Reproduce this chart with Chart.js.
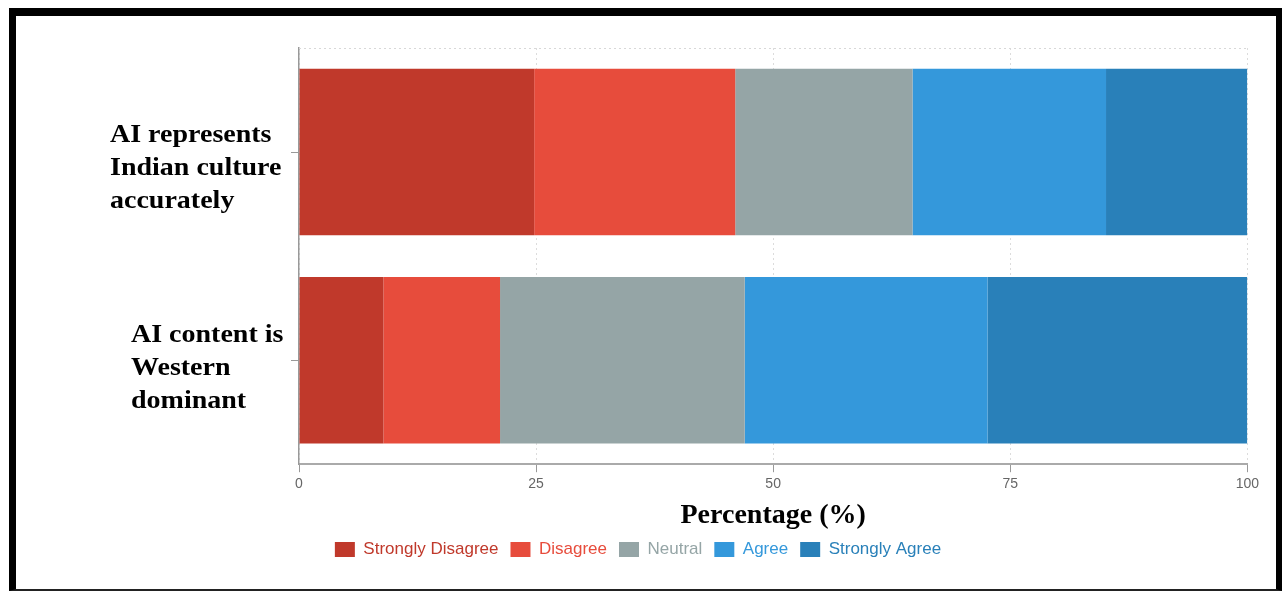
<!DOCTYPE html>
<html>
<head>
<meta charset="utf-8">
<script src="https://cdn.jsdelivr.net/npm/chart.js@4"></script>
<style>
  html, body { margin: 0; padding: 0; background: #fff; width: 1282px; height: 591px; overflow: hidden; }
  #wrap { position: absolute; left: 16px; top: 16px; width: 1247px; height: 574px; }
  #frame { position: absolute; left: 9px; top: 8px; width: 1273px; height: 583px; box-sizing: border-box;
           border-top: 8px solid #000; border-left: 7px solid #000; border-right: 6px solid #000; border-bottom: 2px solid #222; pointer-events: none; }
</style>
</head>
<body>
<div id="wrap"><canvas id="c"></canvas></div>
<div id="frame"></div>
<script>
// ---- data ----
const categories = [
  ["AI represents", "Indian culture", "accurately"],
  ["AI content is", "Western", "dominant"]
];
const seriesNames = ["Strongly Disagree", "Disagree", "Neutral", "Agree", "Strongly Agree"];
const stronglyDisagree = [24.8, 8.9];
const disagree = [21.2, 12.3];
const neutral = [18.7, 25.8];
const agree = [20.4, 25.6];
const stronglyAgree = [14.9, 27.4];
const xTickValues = [0, 25, 50, 75, 100];
const xTitle = "Percentage (%)";

// ---- style ----
const colors = ["#c0392b", "#e74c3c", "#95a5a6", "#3498db", "#2980b9"];
const seriesValues = [stronglyDisagree, disagree, neutral, agree, stronglyAgree];
const labelStyle = { left: [94, 115], dy: [16, 8], lineHeight: 33, stretch: 1.12,
                     font: "bold 25px 'Liberation Serif', 'Times New Roman', serif" };

const categoryLabelPlugin = {
  id: 'categoryLabels',
  afterDraw(chart) {
    const y = chart.scales.y;
    const ctx = chart.ctx;
    categories.forEach((lines, i) => {
      const cy = y.getPixelForTick(i) + labelStyle.dy[i];
      const n = lines.length;
      lines.forEach((line, j) => {
        const ly = cy + (j - (n - 1) / 2) * labelStyle.lineHeight;
        ctx.save();
        ctx.font = labelStyle.font;
        ctx.fillStyle = '#000';
        ctx.textAlign = 'left';
        ctx.textBaseline = 'middle';
        ctx.translate(labelStyle.left[i], ly);
        ctx.scale(labelStyle.stretch, 1);
        ctx.fillText(line, 0, 0);
        ctx.restore();
      });
    });
  },
  beforeDatasetsDraw(chart) {
    const a = chart.chartArea;
    const ctx = chart.ctx;
    ctx.save();
    ctx.strokeStyle = '#d8d8d8';
    ctx.lineWidth = 1;
    ctx.setLineDash([2, 3]);
    ctx.beginPath();
    ctx.moveTo(a.left, a.top + 0.5);
    ctx.lineTo(a.right, a.top + 0.5);
    ctx.stroke();
    ctx.restore();
  }
};

new Chart(document.getElementById('c'), {
  type: 'bar',
  data: {
    labels: categories.map(l => l.join(' ')),
    datasets: seriesNames.map((name, i) => ({
      label: name,
      data: seriesValues[i],
      backgroundColor: colors[i],
      borderWidth: 0,
      categoryPercentage: 0.8,
      barPercentage: 1.0
    }))
  },
  options: {
    indexAxis: 'y',
    responsive: true,
    maintainAspectRatio: false,
    animation: false,
    layout: { padding: { top: 32, right: 11, left: 8, bottom: 22 } },
    scales: {
      x: {
        stacked: true,
        min: 0, max: 100,
        afterBuildTicks(scale) { scale.ticks = xTickValues.map(v => ({ value: v })); },
        ticks: { color: '#666', font: { family: "'Liberation Sans', Arial, sans-serif", size: 14 }, padding: 4 },
        grid: { color: '#dcdcdc', tickColor: '#999', tickLength: 8 },
        border: { color: '#aaa', width: 2, dash: [2, 3] },
        title: { display: true, text: xTitle, color: '#000', font: { family: "'Liberation Serif', 'Times New Roman', serif", size: 28, weight: 'bold', lineHeight: 1 }, padding: { top: 5, bottom: -1 } }
      },
      y: {
        stacked: true,
        afterFit(scale) { scale.width = 275; },
        ticks: { display: false },
        grid: { drawOnChartArea: false, tickColor: '#999', tickLength: 8, offset: false },
        border: { color: '#999', width: 1.5 }
      }
    },
    plugins: {
      legend: {
        position: 'bottom',
        labels: {
          boxWidth: 20, boxHeight: 15, padding: 12,
          font: { family: "'Liberation Sans', Arial, sans-serif", size: 17 },
          generateLabels(chart) {
            return chart.data.datasets.map((ds, i) => ({
              text: ds.label, fillStyle: ds.backgroundColor, strokeStyle: ds.backgroundColor,
              lineWidth: 0, fontColor: ds.backgroundColor, datasetIndex: i, hidden: false
            }));
          }
        }
      },
      tooltip: { enabled: false }
    }
  },
  plugins: [categoryLabelPlugin]
});
</script>
</body>
</html>
